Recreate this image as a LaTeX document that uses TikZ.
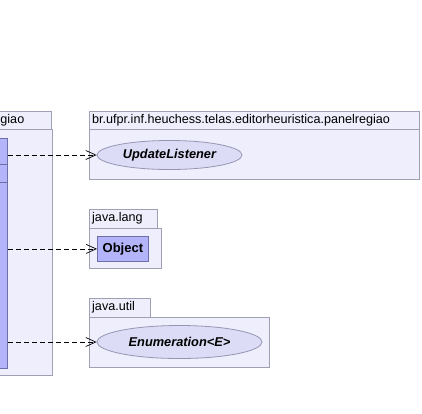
\documentclass[tikz,border=0pt]{standalone}
\usepackage{fontspec}
\setmainfont{Liberation Sans}
\usetikzlibrary{arrows.meta,shapes.geometric}
\definecolor{pkgfill}{HTML}{EEEEFC}
\definecolor{pkgline}{HTML}{A0A0B4}
\definecolor{clsfill}{HTML}{B4B4FA}
\definecolor{clsline}{HTML}{6E6EA8}
\definecolor{ifcfill}{HTML}{DCDCF6}
\definecolor{ifcline}{HTML}{9696B4}
\tikzset{
  pkgtab/.style={draw=pkgline, fill=pkgfill, line width=0.8pt, inner sep=0pt},
  pkgbody/.style={draw=pkgline, fill=pkgfill, line width=0.8pt, inner sep=0pt},
  pkgname/.style={font=\fontsize{12.6}{14}\selectfont, anchor=west, inner sep=0pt},
  classbox/.style={draw=clsline, fill=clsfill, line width=0.8pt, inner sep=0pt,
    font=\fontsize{13}{15}\selectfont\bfseries},
  iface/.style={ellipse, draw=ifcline, fill=ifcfill, line width=0.8pt, inner sep=0pt,
    font=\fontsize{12.8}{15}\selectfont\bfseries\itshape},
  depend/.style={dash pattern=on 5pt off 3pt, line width=0.7pt,
    -{Straight Barb[length=10pt,width=9pt,line width=0.7pt]}}
}
\begin{document}
\begin{tikzpicture}[x=1pt,y=-1pt]
\useasboundingbox (0,0) rectangle (422,413);
\fill[white] (0,0) rectangle (422,413);
\clip (0,0) rectangle (422,413);

% client package (left, partly outside)
\node[pkgtab, minimum width=70, minimum height=18, anchor=north east] (ltab) at (52,111) {};
\node[pkgbody, minimum width=80, minimum height=246, anchor=north east] (lpkg) at (53,129) {};
\node[pkgname, anchor=east] (lname) at (24.5,120) {br.ufpr.inf.heuchess.telas.editorheuristica.panelregiao};
\node[classbox, minimum width=20, minimum height=230, anchor=north east] (cls) at (8,138) {};
\draw[clsline, line width=0.8pt] (-12,164) -- (8,164) (-12,182) -- (8,182);

% package of UpdateListener
\node[pkgtab, minimum width=330, minimum height=18, anchor=north west] (tab1) at (89,111) {};
\node[pkgbody, minimum width=330, minimum height=50, anchor=north west] (pkg1) at (89,129) {};
\node[pkgname] (name1) at (92,120) {br.ufpr.inf.heuchess.telas.editorheuristica.panelregiao};
\node[iface, minimum width=145, minimum height=29] (ul) at (169.5,155) {UpdateListener};

% java.lang
\node[pkgtab, minimum width=68, minimum height=19, anchor=north west] (tab2) at (89,209) {};
\node[pkgbody, minimum width=72, minimum height=40, anchor=north west] (pkg2) at (89,228) {};
\node[pkgname] (name2) at (92,218.5) {java.lang};
\node[classbox, minimum width=51, minimum height=25, anchor=north west] (obj) at (97,236) {Object};

% java.util
\node[pkgtab, minimum width=61, minimum height=19, anchor=north west] (tab3) at (89,298) {};
\node[pkgbody, minimum width=180, minimum height=50, anchor=north west] (pkg3) at (89,317) {};
\node[pkgname] (name3) at (92,307.5) {java.util};
\node[iface, minimum width=165, minimum height=33] (en) at (179.5,342) {Enumeration<E>};

% dependencies
\draw[depend] (cls.east |- ul.west) -- (ul.west);
\draw[depend] (cls.east |- obj.west) -- (obj.west);
\draw[depend] (cls.east |- en.west) -- (en.west);
\end{tikzpicture}
\end{document}
